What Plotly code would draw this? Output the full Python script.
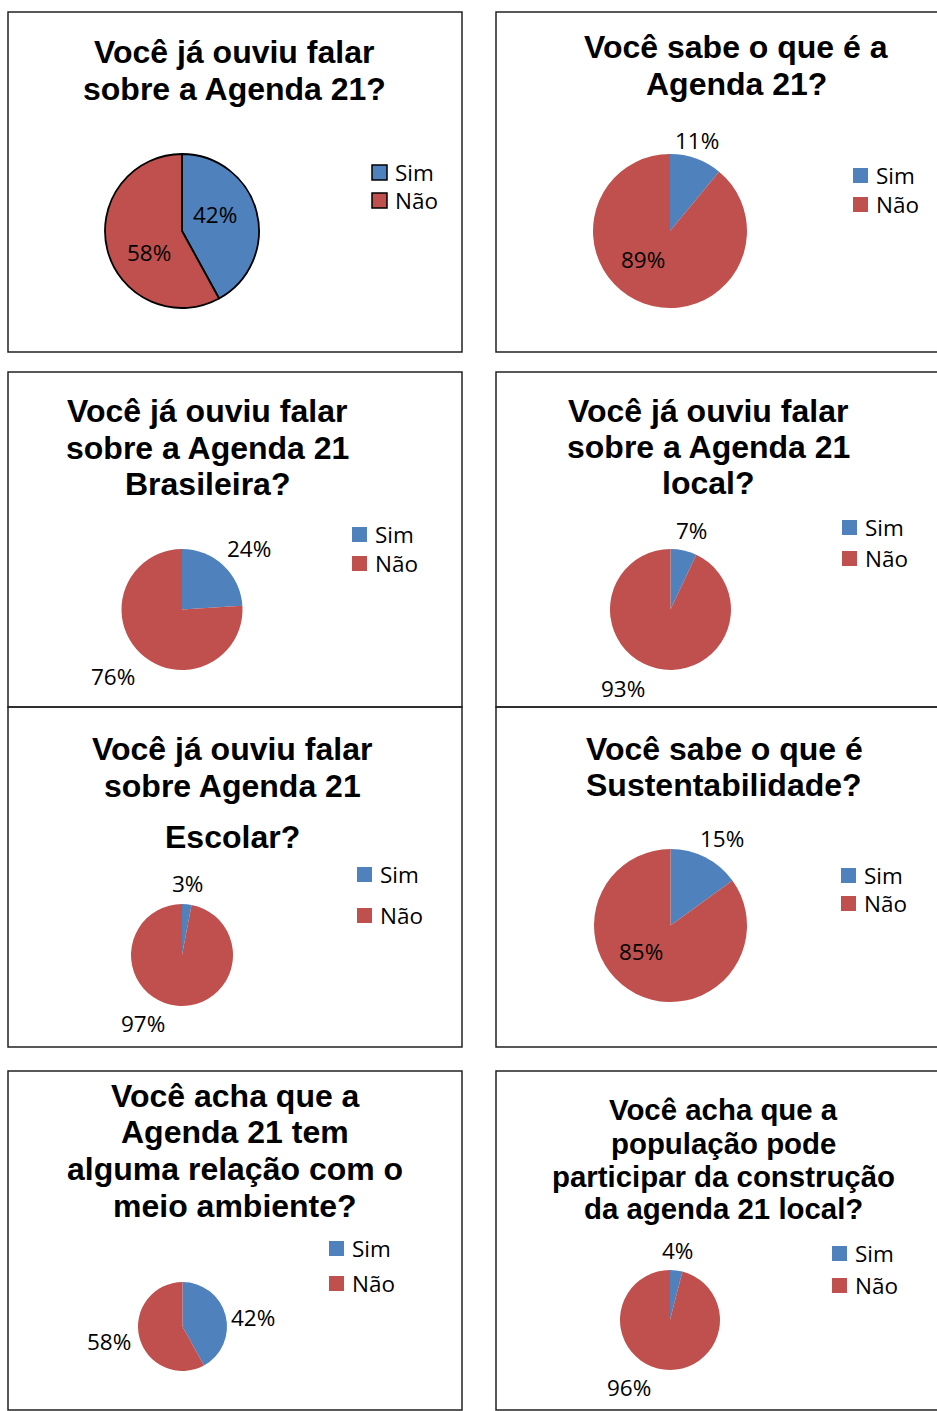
import plotly.graph_objects as go

# ---------------- data ----------------
categories = ["Sim", "Não"]
sim_values = [42, 11, 24, 7, 3, 15, 42, 4]
nao_values = [58, 89, 76, 93, 97, 85, 58, 96]
titles = [
    ["Você já ouviu falar", "sobre a Agenda 21?"],
    ["Você sabe o que é a", "Agenda 21?"],
    ["Você já ouviu falar", "sobre a Agenda 21", "Brasileira?"],
    ["Você já ouviu falar", "sobre a Agenda 21", "local?"],
    ["Você já ouviu falar", "sobre Agenda 21", "Escolar?"],
    ["Você sabe o que é", "Sustentabilidade?"],
    ["Você acha que a", "Agenda 21 tem", "alguma relação com o", "meio ambiente?"],
    ["Você acha que a", "população pode", "participar da construção", "da agenda 21 local?"],
]
colors = ["#4F81BD", "#C0504D"]

# ---------------- layout (screen pixel positions) ----------------
W, H = 937, 1411
OFF = 0  # body margin removed in the page
boxes = [  # x0, y0, x1, y1
    (8, 12, 462, 352), (496, 12, 945, 352),
    (8, 372, 462, 707), (496, 372, 945, 707),
    (8, 707, 462, 1047), (496, 707, 945, 1047),
    (8, 1071, 462, 1410), (496, 1071, 945, 1410),
]
pies = [  # cx, cy, r
    (182, 231, 77), (670, 231, 77),
    (182, 609.5, 60.5), (670.5, 609.5, 60.5),
    (182, 955, 51), (670.5, 925.5, 76.5),
    (182.5, 1326.5, 44.5), (670, 1320, 50),
]
title_x = [234, 736, 207, 708, 232, 724, 235, 723]
title_y = [
    [52, 89], [47, 84], [411, 448, 484], [411, 447, 483],
    [749, 786, 837], [749, 785], [1096, 1132, 1169, 1206], [1109, 1143, 1176, 1208],
]
title_size = [32, 32, 32, 32, 32, 32, 32, 29.4]
label_pos = [  # (sim x, y), (nao x, y)
    ((215, 214), (149, 252)), ((697, 140), (643, 260)),
    ((249, 548), (113, 676)), ((691, 530), (623, 688)),
    ((187, 883), (143, 1023)), ((722, 838), (641, 952)),
    ((253, 1317), (109, 1341)), ((677, 1250), (629, 1387)),
]
legend_pos = [  # square x0, sim y0, nao y0
    (372, 165, 193), (853, 168, 197), (352, 527, 556), (842, 520, 551),
    (357, 867, 908), (841, 868, 896), (329, 1241, 1276), (832, 1246, 1278),
]


def px(x):
    return (x - OFF) / W


def py(y):
    return 1 - (y - OFF) / H


fig = go.Figure()
shapes = []
annotations = []

for i in range(8):
    cx, cy, r = pies[i]
    outline = i == 0
    fig.add_trace(go.Pie(
        labels=categories,
        values=[sim_values[i], nao_values[i]],
        sort=False,
        direction="clockwise",
        rotation=0,
        textinfo="none",
        hoverinfo="label+percent",
        showlegend=False,
        marker=dict(colors=colors,
                    line=dict(color="#000000" if outline else "rgba(0,0,0,0)",
                              width=1.8 if outline else 0)),
        domain=dict(x=[px(cx - r), px(cx + r)], y=[py(cy + r), py(cy - r)]),
    ))

    # panel border
    x0, y0, x1, y1 = boxes[i]
    shapes.append(dict(type="rect", xref="paper", yref="paper",
                       x0=px(x0), x1=px(x1), y0=py(y0), y1=py(y1),
                       line=dict(color="#222222", width=1.5), fillcolor="rgba(0,0,0,0)"))

    # title
    for line, ty in zip(titles[i], title_y[i]):
        annotations.append(dict(
            text=line, x=px(title_x[i]), y=py(ty), xref="paper", yref="paper",
            xanchor="center", yanchor="middle", showarrow=False,
            font=dict(family="Liberation Sans, Arial", size=title_size[i],
                      color="#000000", weight="bold")))

    # data labels
    for val, (lx, ly) in zip([sim_values[i], nao_values[i]], label_pos[i]):
        annotations.append(dict(
            text=f"{val}%", x=px(lx), y=py(ly), xref="paper", yref="paper",
            xanchor="center", yanchor="middle", showarrow=False,
            font=dict(family="Open Sans", size=22.5, color="#000000")))

    # legend
    lx0, sy, ny = legend_pos[i]
    for cat, col, ly in zip(categories, colors, [sy, ny]):
        shapes.append(dict(type="rect", xref="paper", yref="paper",
                           x0=px(lx0), x1=px(lx0 + 15), y0=py(ly + 15), y1=py(ly),
                           fillcolor=col,
                           line=dict(color="#000000" if outline else col,
                                     width=1.5 if outline else 0)))
        annotations.append(dict(
            text=cat, x=px(lx0 + 21), y=py(ly + 7.5), xref="paper", yref="paper",
            xanchor="left", yanchor="middle", showarrow=False,
            font=dict(family="Open Sans", size=22.5, color="#000000")))

fig.update_layout(
    width=W, height=H,
    margin=dict(l=0, r=0, t=0, b=0),
    paper_bgcolor="white", plot_bgcolor="white",
    shapes=shapes, annotations=annotations,
    showlegend=False,
)

fig.write_html(
    "out.html",
    config={"displayModeBar": False},
    post_script="document.body.style.margin='0';document.body.style.overflow='hidden';",
)
